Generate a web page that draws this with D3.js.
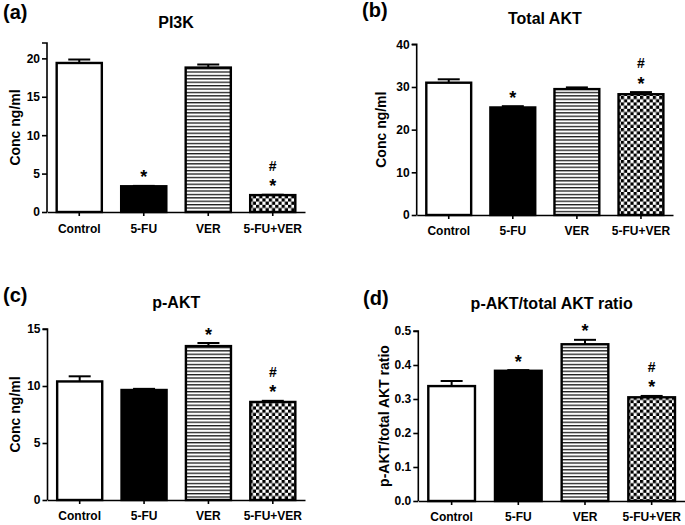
<!DOCTYPE html>
<html>
<head>
<meta charset="utf-8">
<script src="https://cdn.jsdelivr.net/npm/d3@7/dist/d3.min.js"></script>
<style>
html,body{margin:0;padding:0;background:#fff;}
text{font-family:"Liberation Sans",Arial,sans-serif;font-weight:bold;fill:#000;}
</style>
</head>
<body>
<svg id="chart" width="685" height="525"></svg>
<script>
const categories = ["Control", "5-FU", "VER", "5-FU+VER"];

const pi3kMean = [19.4, 3.35, 18.8, 2.2];
const pi3kErr = [0.45, 0.05, 0.4, 0.05];
const pi3kMarks = ["", "*", "", "#*"];

const totalAktMean = [31.0, 25.2, 29.5, 28.3];
const totalAktErr = [0.8, 0.3, 0.4, 0.5];
const totalAktMarks = ["", "*", "", "#*"];

const pAktMean = [10.4, 9.65, 13.5, 8.6];
const pAktErr = [0.45, 0.1, 0.27, 0.1];
const pAktMarks = ["", "", "*", "#*"];

const ratioMean = [0.338, 0.383, 0.461, 0.305];
const ratioErr = [0.015, 0.002, 0.013, 0.004];
const ratioMarks = ["", "*", "*", "#*"];

const pi3kTicks = [0, 5, 10, 15, 20];
const totalAktTicks = [0, 10, 20, 30, 40];
const pAktTicks = [0, 5, 10, 15];
const ratioTicks = [0, 0.1, 0.2, 0.3, 0.4, 0.5];

const fills = ["#fff", "#000", "url(#stripes)", "url(#checker)"];

const svg = d3.select("#chart");
const defs = svg.append("defs");
const st = defs.append("pattern").attr("id", "stripes").attr("patternUnits", "userSpaceOnUse")
  .attr("width", 8).attr("height", 3.4);
st.append("rect").attr("width", 8).attr("height", 3.4).attr("fill", "#fff");
st.append("rect").attr("y", 0).attr("width", 8).attr("height", 1.3).attr("fill", "#1a1a1a");
const ck = defs.append("pattern").attr("id", "checker").attr("patternUnits", "userSpaceOnUse")
  .attr("width", 6.4).attr("height", 6.4);
ck.append("rect").attr("width", 6.4).attr("height", 6.4).attr("fill", "#fff");
ck.append("rect").attr("width", 3.2).attr("height", 3.2).attr("fill", "#000");
ck.append("rect").attr("x", 3.2).attr("y", 3.2).attr("width", 3.2).attr("height", 3.2).attr("fill", "#000");

const panels = [
  {letter: "(a)", lx: 3, ly: 19, title: "PI3K", ty: 28, ylabel: "Conc ng/ml", ylx: 20,
   mean: pi3kMean, err: pi3kErr, marks: pi3kMarks, ticks: pi3kTicks, fmt: d3.format("d"), max: 22,
   x0: 47, x1: 305, y0: 212, yTop: 43, catY: 233},
  {letter: "(b)", lx: 362, ly: 17, title: "Total AKT", ty: 23.5, ylabel: "Conc ng/ml", ylx: 386,
   mean: totalAktMean, err: totalAktErr, marks: totalAktMarks, ticks: totalAktTicks, fmt: d3.format("d"), max: 40,
   x0: 416.7, x1: 673, y0: 215, yTop: 44.3, catY: 234.5},
  {letter: "(c)", lx: 3, ly: 302, title: "p-AKT", ty: 308.3, ylabel: "Conc ng/ml", ylx: 20,
   mean: pAktMean, err: pAktErr, marks: pAktMarks, ticks: pAktTicks, fmt: d3.format("d"), max: 15,
   x0: 47.5, x1: 305, y0: 500, yTop: 329, catY: 519.5},
  {letter: "(d)", lx: 363, ly: 305, title: "p-AKT/total AKT ratio", ty: 309, ylabel: "p-AKT/total AKT ratio", ylx: 389,
   mean: ratioMean, err: ratioErr, marks: ratioMarks, ticks: ratioTicks, fmt: d3.format(".1f"), max: 0.5,
   x0: 418.3, x1: 685, y0: 501, yTop: 331, catY: 521}
];

panels.forEach(p => {
  const g = svg.append("g");
  const x = d3.scaleBand().domain(categories).range([p.x0, p.x1]).paddingInner(0.3).paddingOuter(0.15);
  const y = d3.scaleLinear().domain([0, p.max]).range([p.y0, p.yTop]);

  g.append("text").attr("x", p.lx).attr("y", p.ly).attr("font-size", 20).text(p.letter);
  g.append("text").attr("x", (p.x0 + p.x1) / 2).attr("y", p.ty).attr("text-anchor", "middle")
    .attr("font-size", 16).text(p.title);
  g.append("text").attr("transform", `translate(${p.ylx},${(p.y0 + p.yTop) / 2}) rotate(-90)`)
    .attr("text-anchor", "middle").attr("font-size", 14).text(p.ylabel);

  categories.forEach((c, i) => {
    const bx = x(c), bw = x.bandwidth(), cx = bx + bw / 2;
    const top = y(p.mean[i]), etop = y(p.mean[i] + p.err[i]);
    g.append("line").attr("x1", cx).attr("x2", cx).attr("y1", top).attr("y2", etop)
      .attr("stroke", "#000").attr("stroke-width", 2);
    g.append("line").attr("x1", cx - 11).attr("x2", cx + 11).attr("y1", etop).attr("y2", etop)
      .attr("stroke", "#000").attr("stroke-width", 2);
    g.append("rect").attr("x", bx).attr("y", top).attr("width", bw).attr("height", p.y0 - top)
      .attr("fill", fills[i]).attr("stroke", "#000").attr("stroke-width", 2.4);
    const m = p.marks[i];
    if (m.includes("*")) {
      g.append("text").attr("x", cx).attr("y", etop - 13 + 10.5).attr("text-anchor", "middle")
        .attr("font-size", 18).text("*");
    }
    if (m.includes("#")) {
      g.append("text").attr("x", cx).attr("y", etop - 29 + 5).attr("text-anchor", "middle")
        .attr("font-size", 14).attr("fill", "#222").text("#");
    }
  });

  const yAxis = d3.axisLeft(y).tickValues(p.ticks).tickFormat(p.fmt).tickSize(5).tickPadding(2);
  const ya = g.append("g").attr("transform", `translate(${p.x0},0)`).call(yAxis);
  ya.select(".domain").attr("stroke-width", 1.6).attr("d", `M-5,${p.yTop}H0V${p.y0}`);
  ya.selectAll(".tick line").attr("stroke-width", 1.6);
  ya.selectAll("text").attr("font-size", 12);

  const xAxis = d3.axisBottom(x).tickSize(4).tickSizeOuter(0).tickFormat(() => "");
  const xa = g.append("g").attr("transform", `translate(0,${p.y0})`).call(xAxis);
  xa.select(".domain").attr("stroke-width", 1.6);
  xa.selectAll(".tick line").attr("stroke-width", 1.6);
  categories.forEach(c => {
    g.append("text").attr("x", x(c) + x.bandwidth() / 2).attr("y", p.catY).attr("text-anchor", "middle")
      .attr("font-size", 12).text(c);
  });
});
</script>
</body>
</html>
